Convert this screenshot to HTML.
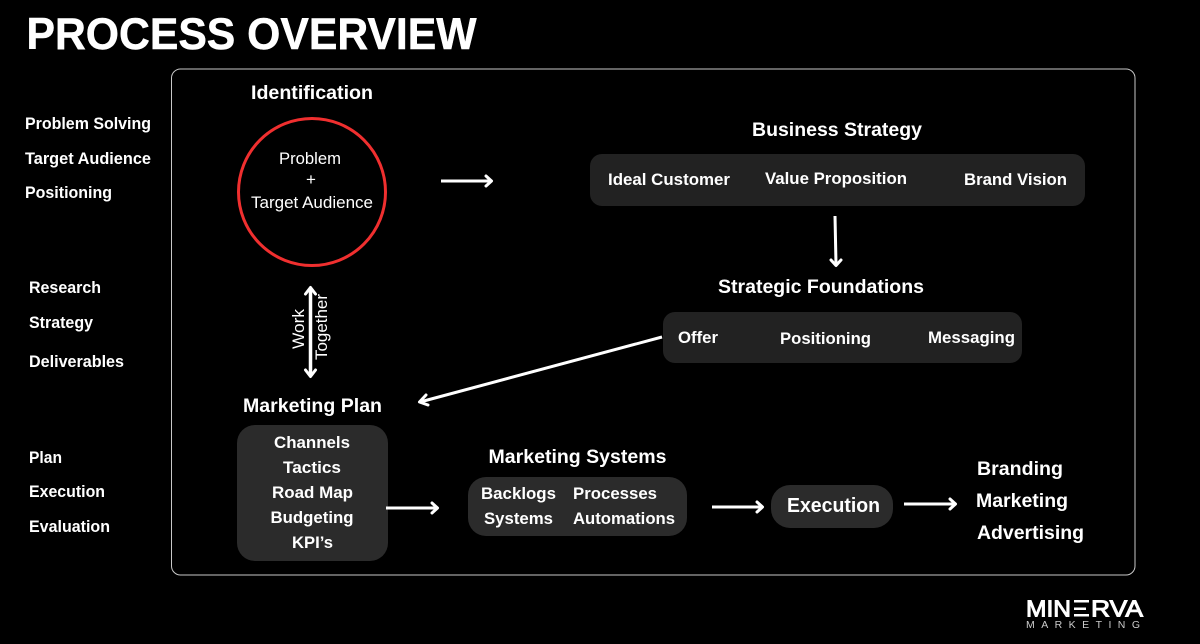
<!DOCTYPE html>
<html><head><meta charset="utf-8"><style>
html,body{margin:0;padding:0;background:#000;width:1200px;height:644px;overflow:hidden}
svg{display:block}
text{font-family:"Liberation Sans",sans-serif;fill:#fff}
.b{font-weight:700}
.h{font-weight:700;font-size:19.500px}
.s{font-weight:700;font-size:17px}
.l{stroke:#fff;stroke-width:3;fill:none;stroke-linecap:butt;stroke-linejoin:round}
.a{stroke:#fff;stroke-width:3;fill:none;stroke-linecap:round;stroke-linejoin:round}
</style></head><body>
<svg width="1200" height="644" viewBox="0 0 1200 644" xmlns="http://www.w3.org/2000/svg">
<rect width="1200" height="644" fill="#000"/>
<text class="b" x="26.500" y="49" font-size="44.500" stroke="#fff" stroke-width=".5" textLength="450" lengthAdjust="spacingAndGlyphs">PROCESS OVERVIEW</text>
<rect x="171.500" y="69" width="963.500" height="506" rx="9" fill="#000" stroke="#c8c8c8" stroke-width="1"/>

<text class="s" x="25" y="129" textLength="126" lengthAdjust="spacingAndGlyphs">Problem Solving</text>
<text class="s" x="25" y="164" textLength="126" lengthAdjust="spacingAndGlyphs">Target Audience</text>
<text class="s" x="25" y="198" textLength="87" lengthAdjust="spacingAndGlyphs">Positioning</text>
<text class="s" x="29" y="293" textLength="72" lengthAdjust="spacingAndGlyphs">Research</text>
<text class="s" x="29" y="328" textLength="64" lengthAdjust="spacingAndGlyphs">Strategy</text>
<text class="s" x="29" y="367" textLength="95" lengthAdjust="spacingAndGlyphs">Deliverables</text>
<text class="s" x="29" y="463" textLength="33" lengthAdjust="spacingAndGlyphs">Plan</text>
<text class="s" x="29" y="497" textLength="76" lengthAdjust="spacingAndGlyphs">Execution</text>
<text class="s" x="29" y="532" textLength="81" lengthAdjust="spacingAndGlyphs">Evaluation</text>

<text class="h" x="251" y="99" textLength="122" lengthAdjust="spacingAndGlyphs">Identification</text>
<circle cx="312" cy="192" r="73.500" fill="none" stroke="#f02f2f" stroke-width="3"/>
<text x="279" y="164" font-size="17" textLength="62" lengthAdjust="spacingAndGlyphs">Problem</text>
<text x="306" y="185" font-size="17">+</text>
<text x="251" y="208" font-size="17" textLength="122" lengthAdjust="spacingAndGlyphs">Target Audience</text>

<path class="l" d="M441 181H491"/><path class="a" d="M486 176L491.500 181L486 186"/>

<text class="h" x="752" y="136" textLength="170" lengthAdjust="spacingAndGlyphs">Business Strategy</text>
<rect x="590" y="154" width="495" height="52" rx="12" fill="#222"/>
<text class="s" x="608" y="185" textLength="122" lengthAdjust="spacingAndGlyphs">Ideal Customer</text>
<text class="s" x="765" y="184" textLength="142" lengthAdjust="spacingAndGlyphs">Value Proposition</text>
<text class="s" x="964" y="185" textLength="103" lengthAdjust="spacingAndGlyphs">Brand Vision</text>

<path class="l" d="M835 216L836 264"/><path class="a" d="M831 260L836 265.500L841 260"/>

<text class="h" x="718" y="293" textLength="206" lengthAdjust="spacingAndGlyphs">Strategic Foundations</text>
<rect x="663" y="312" width="359" height="51" rx="12" fill="#222"/>
<text class="s" x="678" y="343" textLength="40" lengthAdjust="spacingAndGlyphs">Offer</text>
<text class="s" x="780" y="344" textLength="91" lengthAdjust="spacingAndGlyphs">Positioning</text>
<text class="s" x="928" y="343" textLength="87" lengthAdjust="spacingAndGlyphs">Messaging</text>

<path class="l" d="M662 337L420 402"/><path class="a" d="M426 395L419.500 402L428 405"/>

<path class="l" style="stroke-width:3.500" d="M310.500 289V376"/>
<path class="a" d="M305.500 294L310.500 287.500L315.500 294M305.500 370L310.500 376.500L315.500 370"/>
<text transform="translate(304,349) rotate(-90)" font-size="17" textLength="40" lengthAdjust="spacingAndGlyphs">Work</text>
<text transform="translate(327,360) rotate(-90)" font-size="17" textLength="66" lengthAdjust="spacingAndGlyphs">Together</text>

<text class="h" x="243" y="412" textLength="139" lengthAdjust="spacingAndGlyphs">Marketing Plan</text>
<rect x="237" y="425" width="151" height="136" rx="18" fill="#2b2b2b"/>
<text class="s" x="274" y="448" textLength="76" lengthAdjust="spacingAndGlyphs">Channels</text>
<text class="s" x="283" y="473" textLength="58" lengthAdjust="spacingAndGlyphs">Tactics</text>
<text class="s" x="272" y="498" textLength="81" lengthAdjust="spacingAndGlyphs">Road Map</text>
<text class="s" x="270.500" y="523" textLength="83" lengthAdjust="spacingAndGlyphs">Budgeting</text>
<text class="s" x="292" y="548" textLength="41" lengthAdjust="spacingAndGlyphs">KPI’s</text>

<path class="l" d="M386 508H437"/><path class="a" d="M432 503L437.500 508L432 513"/>

<text class="h" x="488.500" y="463" textLength="178" lengthAdjust="spacingAndGlyphs">Marketing Systems</text>
<rect x="468" y="477" width="219" height="59" rx="18" fill="#2b2b2b"/>
<text class="s" x="481" y="499" textLength="75" lengthAdjust="spacingAndGlyphs">Backlogs</text>
<text class="s" x="573" y="499" textLength="84" lengthAdjust="spacingAndGlyphs">Processes</text>
<text class="s" x="484" y="524" textLength="69" lengthAdjust="spacingAndGlyphs">Systems</text>
<text class="s" x="573" y="524" textLength="102" lengthAdjust="spacingAndGlyphs">Automations</text>

<path class="l" d="M712 507H762"/><path class="a" d="M757 502L762.500 507L757 512"/>

<rect x="771" y="485" width="122" height="43" rx="19" fill="#2b2b2b"/>
<text class="b" x="787" y="512" font-size="20" textLength="93" lengthAdjust="spacingAndGlyphs">Execution</text>

<path class="l" d="M904 504H955"/><path class="a" d="M950 499L955.500 504L950 509"/>

<text class="b" x="977" y="475" font-size="19.500" textLength="86" lengthAdjust="spacingAndGlyphs">Branding</text>
<text class="b" x="976" y="507" font-size="19.500" textLength="92" lengthAdjust="spacingAndGlyphs">Marketing</text>
<text class="b" x="977" y="539" font-size="19.500" textLength="107" lengthAdjust="spacingAndGlyphs">Advertising</text>

<text x="1026" y="616.500" font-size="23" stroke="#fff" stroke-width="1" textLength="45" lengthAdjust="spacingAndGlyphs">MIN</text>
<rect x="1074" y="600" width="15" height="2.500" fill="#fff"/>
<rect x="1074" y="607.500" width="12" height="2.500" fill="#fff"/>
<rect x="1074" y="614" width="15" height="2.500" fill="#fff"/>
<text x="1091" y="616.500" font-size="23" stroke="#fff" stroke-width="1" textLength="52" lengthAdjust="spacingAndGlyphs">RVA</text>
<text x="1026" y="628" font-size="10.500" style="fill:#ccc" textLength="114">MARKETING</text>
</svg>
</body></html>
